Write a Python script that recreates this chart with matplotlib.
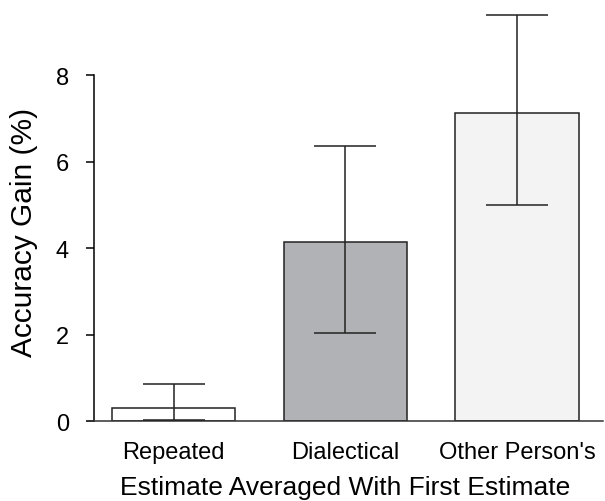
import matplotlib
matplotlib.use("Agg")
import matplotlib.pyplot as plt
import numpy as np

# ── Data ──────────────────────────────────────────────────────────
categories = ["Repeated", "Dialectical", "Other Person's"]
gain       = [0.30, 4.15, 7.12]
ci_low     = [0.02, 2.03, 5.00]
ci_high    = [0.85, 6.36, 9.40]
bar_colors = ["#ffffff", "#b1b2b6", "#f3f3f3"]

plt.rcParams["font.family"] = ["Liberation Sans", "DejaVu Sans"]

fig = plt.figure(figsize=(6.05, 5.02), dpi=100)
ax = fig.add_axes([0.145, 0.159, 0.852, 0.827])

x = np.arange(len(categories))
yerr = [np.array(gain) - np.array(ci_low), np.array(ci_high) - np.array(gain)]

ax.bar(x, gain, width=0.72, color=bar_colors, edgecolor="#222222",
       linewidth=1.1, zorder=2)
ax.errorbar(x, gain, yerr=yerr, fmt="none", ecolor="#222222",
            elinewidth=1.1, capsize=22, capthick=1.1, zorder=3)

ax.set_xlim(-0.5, 2.5)
ax.set_ylim(0, 9.6)
ax.set_yticks([0, 2, 4, 6, 8])
ax.set_xticks(x)
ax.set_xticklabels(categories, fontsize=17)
ax.tick_params(axis="y", labelsize=17, length=6, width=1.1, pad=12)
ax.tick_params(axis="x", length=0, pad=14)

for s in ["top", "right"]:
    ax.spines[s].set_visible(False)
ax.spines["left"].set_bounds(0, 8)
ax.spines["left"].set_position(("axes", 0.012))
ax.spines["left"].set_linewidth(1.1)
ax.spines["bottom"].set_linewidth(1.1)
ax.spines["bottom"].set_color("#333333")

ax.set_ylabel("Accuracy Gain (%)", fontsize=21.5)
ax.yaxis.set_label_coords(-0.097, 0.458)
ax.set_xlabel("Estimate Averaged With First Estimate", fontsize=19, labelpad=9)

plt.savefig("out.png", dpi=100)
plt.close()
